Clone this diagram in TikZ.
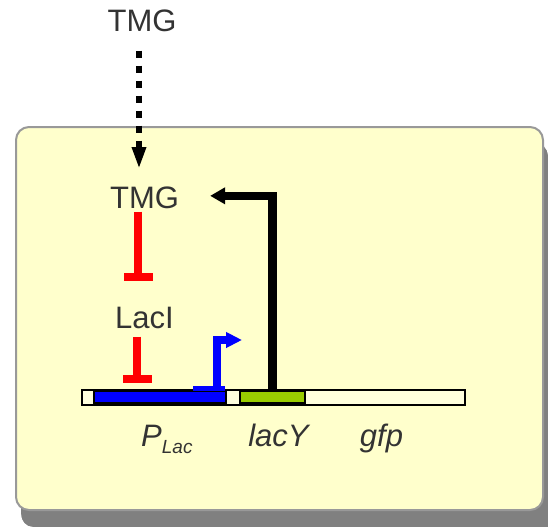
\documentclass[tikz,border=0pt]{standalone}
\usepackage{fontspec}
\setmainfont{Liberation Sans}
\usetikzlibrary{arrows.meta,calc}
\definecolor{txt}{HTML}{333333}
\definecolor{boxfill}{HTML}{FFFFCC}
\definecolor{boxline}{HTML}{999999}
\definecolor{shade}{HTML}{808080}
\definecolor{dnafill}{HTML}{FFFFDD}
\definecolor{genegreen}{HTML}{99CC00}
\begin{document}
\begin{tikzpicture}[x=1pt,y=-1pt,
  lbl/.style={inner sep=0pt, anchor=base, text=txt, font=\fontsize{31}{31}\selectfont},
  ilbl/.style={inner sep=0pt, anchor=base, text=txt, font=\fontsize{31}{31}\selectfont\itshape},
  part/.style={draw=black, line width=2pt, inner sep=0pt},
  inhib/.style={draw=red, line width=8pt, -{Bar[width=29pt]}},
  diffuse/.style={draw=black, line width=6pt, dash pattern=on 7pt off 8pt, -{Triangle[width=13pt,length=22pt]}},
  feedback/.style={draw=black, line width=8.5pt, -{Triangle[width=16pt,length=15pt]}},
  tssarrow/.style={draw=blue, line width=8pt, -{Triangle[width=15pt,length=16pt]}}]
\useasboundingbox (0,0) rectangle (548,527);
% cell with shadow
\path[fill=shade] (21,143) rectangle (548,527);
\path[fill=white] (21,527) -- (21,514) .. controls (21,521) and (26,527) .. (33,527) -- cycle;
\path[fill=white] (548,143) -- (536,143) .. controls (542,143) and (548,149) .. (548,155) -- cycle;
\draw[boxline, fill=boxfill, line width=2pt, rounded corners=13pt] (16,127) rectangle (543,510);

% labels
\node[lbl] (tmgout) at (142,32) {TMG};
\node[lbl] (tmgin) at (144.5,208) {TMG};
\node[lbl] (laci) at (144.5,328) {LacI};
\node[inner sep=0pt, anchor=base west, text=txt, font=\fontsize{31}{31}\selectfont\itshape] (plac) at (141,446) {P\raisebox{-7pt}{\fontsize{19}{19}\selectfont Lac}};
\node[ilbl] (lacy) at (278.5,446) {lacY};
\node[ilbl] (gfp) at (381.5,446) {gfp};

% DNA
\node[part, fill=dnafill, minimum width=383pt, minimum height=15pt] (dna) at (273.5,397.5) {};
\node[part, fill=blue, minimum width=132pt, minimum height=12pt] (prom) at (160,397) {};
\node[part, fill=genegreen, minimum width=65pt, minimum height=12pt] (green) at (272.5,397) {};
\fill[blue] (193,386) rectangle (225,391);

% connectors
\draw[diffuse] ($(tmgout.south)+(-3,18)$) -- ($(tmgin.north)+(-5.5,-17)$);
\draw[inhib] ($(tmgin.south)+(-6.5,3)$) -- ($(laci.north)+(-6.5,-25)$);
\draw[inhib] ($(laci.south)+(-7.5,8)$) -- ($(prom.north)+(-23,-7)$);
\draw[feedback] ($(green.north)+(0,-1)$) |- ($(tmgin.east)+(31,-1.5)$);
\draw[tssarrow] ($(prom.north east)+(-10,-2)$) |- ($(prom.north east)+(15,-50)$);
\end{tikzpicture}
\end{document}
